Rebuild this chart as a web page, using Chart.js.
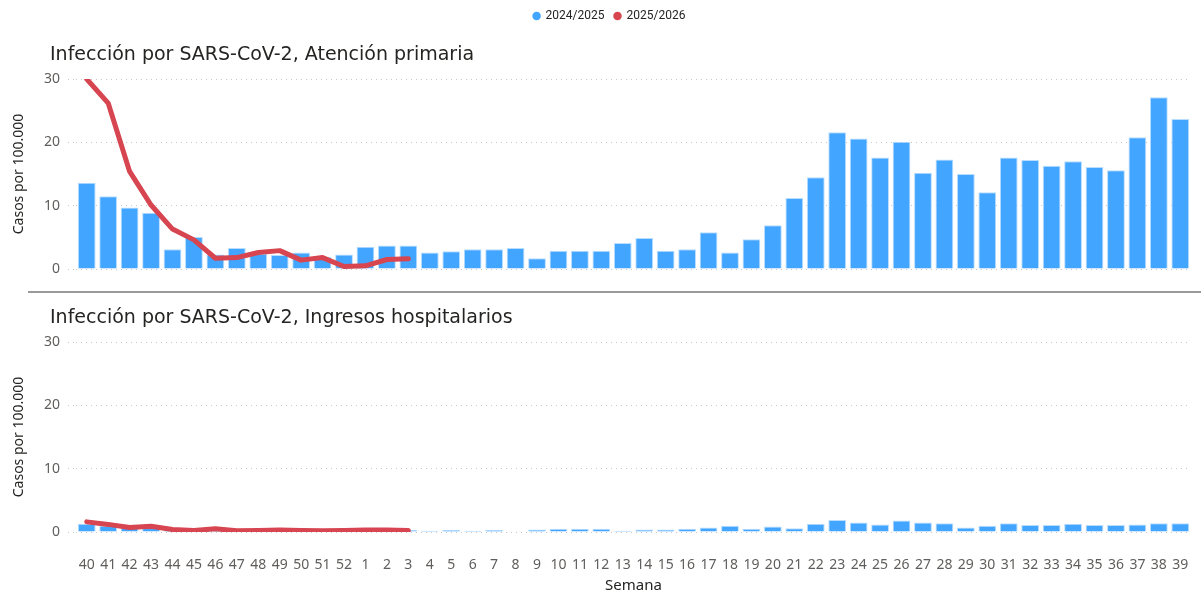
<!DOCTYPE html>
<html>
<head>
<meta charset="utf-8">
<script src="https://cdn.jsdelivr.net/npm/chart.js@4.4.1/dist/chart.umd.min.js"></script>
<style>
  html, body { margin:0; padding:0; background:#fff; }
  #wrap { position:relative; width:1201px; height:595px; overflow:hidden; }
  #c1box { position:absolute; left:0; top:0; width:1201px; height:292px; }
  #c2box { position:absolute; left:0; top:296px; width:1201px; height:299px; }
  #sep { position:absolute; left:28px; right:0; top:291px; height:2px; background:#9a9a9a; }
</style>
</head>
<body>
<div id="wrap">
  <div id="c1box"><canvas id="chartPrimaria"></canvas></div>
  <div id="sep"></div>
  <div id="c2box"><canvas id="chartHospital"></canvas></div>
</div>
<script>
// ── data ──
const weeks = ['40','41','42','43','44','45','46','47','48','49','50','51','52',
  '1','2','3','4','5','6','7','8','9','10','11','12','13','14','15','16','17','18','19','20',
  '21','22','23','24','25','26','27','28','29','30','31','32','33','34','35','36','37','38','39'];

const primaria2425 = [13.6,11.5,9.7,8.9,3.1,5.05,2.3,3.3,2.4,2.2,2.6,1.9,2.3,
  3.5,3.7,3.7,2.6,2.8,3.1,3.1,3.3,1.7,2.9,2.9,2.9,4.1,4.9,2.9,3.1,5.8,2.6,4.7,6.9,
  11.2,14.5,21.6,20.6,17.6,20.1,15.2,17.3,15.0,12.1,17.6,17.2,16.3,17.0,16.1,15.6,20.8,27.1,23.7];
const primaria2526 = [30.0,26.2,15.4,10.1,6.3,4.6,1.7,1.8,2.6,2.9,1.4,1.8,0.4,0.5,1.5,1.6];

const hospital2425 = [1.3,1.0,0.8,0.8,0.3,0.3,0.3,0.2,0.2,0.2,0.2,0.2,0.3,
  0.3,0.3,0.3,0.2,0.3,0.2,0.3,0.1,0.4,0.5,0.5,0.5,0.2,0.4,0.4,0.5,0.7,1.0,0.5,0.85,
  0.6,1.3,1.9,1.5,1.2,1.8,1.5,1.4,0.7,1.0,1.4,1.1,1.1,1.3,1.1,1.1,1.2,1.4,1.4];
const hospital2526 = [1.6,1.2,0.7,0.9,0.4,0.25,0.5,0.2,0.25,0.3,0.25,0.2,0.25,0.3,0.3,0.25];

const seasons = ['2024/2025','2025/2026'];
const yTicks = [0,10,20,30];

// ── style ──
const BLUE = '#42A5FF', RED = '#D64550';
const GRID = '#C8C6C4', TICK = '#605E5C', DARK = '#252423';

function pad(arr) { return weeks.map((w,i) => i < arr.length ? arr[i] : null); }

// title sits at x=50, legend a bit right of centre (as in the report)
const panelOffsets = {
  id: 'panelOffsets',
  afterLayout(chart) {
    if (chart.titleBlock) { chart.titleBlock.left = 50; }
    if (chart.legend) { chart.legend.left += 14; chart.legend.right += 14; }
  }
};

function makeChart(id, title, bars, line, isBottom) {
  const ctx = document.getElementById(id).getContext('2d');
  return new Chart(ctx, {
    type: 'bar',
    data: {
      labels: weeks,
      datasets: [
        { label: seasons[0], data: bars, backgroundColor: BLUE, borderColor: '#B9DDFF', borderWidth: 1,
          barPercentage: 1, categoryPercentage: 0.83, order: 1 },
        { type: 'line', label: seasons[1], data: pad(line), borderColor: RED, backgroundColor: RED,
          borderWidth: 5, pointRadius: 0, tension: 0, borderCapStyle: 'round', borderJoinStyle: 'round',
          spanGaps: false, order: -1 }
      ]
    },
    plugins: [panelOffsets],
    options: {
      responsive: true, maintainAspectRatio: false, animation: false,
      layout: { padding: { left: 0, right: 10, top: 0, bottom: isBottom ? 0 : 23 } },
      plugins: {
        tooltip: { enabled: false },
        legend: {
          display: !isBottom, position: 'top', weight: 3000,
          labels: { usePointStyle: true, pointStyle: 'circle', boxWidth: 6, boxHeight: 6, padding: 10,
            color: DARK, font: { family: 'Roboto', size: 12 },
            sort: (a, b) => a.datasetIndex - b.datasetIndex,
            generateLabels: c => Chart.defaults.plugins.legend.labels.generateLabels(c)
              .map(l => ({ ...l, lineWidth: 0, strokeStyle: l.fillStyle })) }
        },
        title: {
          display: true, text: title, align: 'start', color: DARK,
          font: { family: 'DejaVu Sans', size: 19, weight: 'normal' },
          padding: { top: isBottom ? 10.6 : 11.6, bottom: 12.6 }
        }
      },
      scales: {
        x: {
          display: isBottom,
          grid: { display: false, drawTicks: true, tickLength: 22 },
          border: { display: false },
          ticks: { color: TICK, font: { family: 'Noto Sans', size: 14 }, autoSkip: false, maxRotation: 0, padding: 3 },
          title: { display: true, text: 'Semana', color: DARK, font: { family: 'Noto Sans', size: 15 },
            padding: { top: 0, bottom: 0 } },
          afterFit: s => { if (isBottom) s.height = 63; }
        },
        y: {
          min: 0, max: 30,
          afterBuildTicks: s => { s.ticks = yTicks.map(v => ({ value: v })); },
          grid: { color: GRID, lineWidth: 1, drawTicks: true, tickLength: 8,
            tickColor: GRID, tickBorderDash: [1, 4] },
          border: { display: false, dash: [1, 4] },
          ticks: { color: TICK, font: { family: 'Noto Sans', size: 14 }, padding: 8 },
          title: { display: true, text: 'Casos por 100.000', color: DARK, font: { family: 'Noto Sans', size: 14 },
            padding: { top: 10.6, bottom: 0 } },
          afterFit: s => { s.width = 76; }
        }
      }
    }
  });
}

makeChart('chartPrimaria', 'Infección por SARS-CoV-2, Atención primaria', primaria2425, primaria2526, false);
makeChart('chartHospital', 'Infección por SARS-CoV-2, Ingresos hospitalarios', hospital2425, hospital2526, true);
</script>
</body>
</html>
